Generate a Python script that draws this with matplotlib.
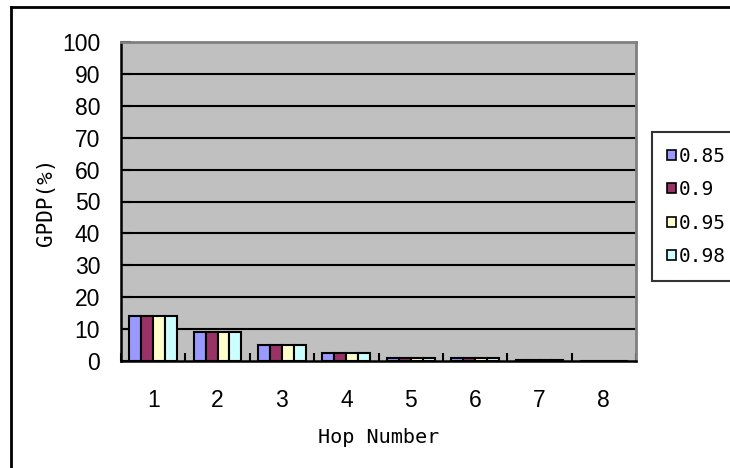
import matplotlib.pyplot as plt
import numpy as np

plt.rcParams['font.family'] = ['Liberation Sans', 'DejaVu Sans']

hops = [1, 2, 3, 4, 5, 6, 7, 8]
series_names = ['0.85', '0.9', '0.95', '0.98']
gpdp_085 = [14.1, 9.1, 4.9, 2.4, 0.9, 0.9, 0.3, 0.1]
gpdp_090 = [14.1, 9.1, 4.9, 2.4, 0.9, 0.9, 0.3, 0.1]
gpdp_095 = [14.1, 9.1, 4.9, 2.4, 0.9, 0.9, 0.3, 0.1]
gpdp_098 = [14.1, 9.1, 4.9, 2.4, 0.9, 0.9, 0.3, 0.1]
colors = ['#9999FF', '#993366', '#FFFFCC', '#CCFFFF']

num_font = ['Liberation Sans Narrow', 'Liberation Sans']
mono_font = ['DejaVu Sans Mono']

fig = plt.figure(figsize=(7.3, 4.68), dpi=100)
ax = fig.add_axes([121 / 730, 1 - 361 / 468, 515 / 730, 319 / 468])
ax.set_facecolor('#C0C0C0')

x = np.arange(len(hops))
w = 0.185
all_series = [gpdp_085, gpdp_090, gpdp_095, gpdp_098]
for k, (vals, name, col) in enumerate(zip(all_series, series_names, colors)):
    ax.bar(x + (k - 1.5) * w, vals, width=w, color=col, edgecolor='black',
           linewidth=1.5, label=name, zorder=3)

ax.set_xlim(-0.5, len(hops) - 0.5)
ax.set_ylim(0, 100)
ax.set_yticks(range(0, 101, 10))
ax.set_xticks(x)
ax.set_xticklabels([str(h) for h in hops])
ax.set_xticks(np.arange(-0.5, len(hops), 1.0), minor=True)
ax.tick_params(axis='x', which='major', length=0, pad=20)
ax.tick_params(axis='x', which='minor', direction='in', length=6, width=1.5)
ax.tick_params(axis='y', direction='in', length=7, width=1.5, pad=15)
for lab in ax.get_xticklabels() + ax.get_yticklabels():
    lab.set_family(num_font)
    lab.set_fontsize(16.5)

for yv in range(10, 100, 10):
    ax.axhline(yv, color='black', linewidth=1.5, zorder=1)

for side in ['left', 'bottom']:
    ax.spines[side].set_color('black')
    ax.spines[side].set_linewidth(1.8)
for side in ['top', 'right']:
    ax.spines[side].set_color('#808080')
    ax.spines[side].set_linewidth(2)

ax.set_xlabel('Hop Number', fontsize=14.5, family=mono_font, labelpad=12)
ax.set_ylabel('GPDP(%)', fontsize=15, family=mono_font, labelpad=4)

leg = fig.legend(loc='upper left', bbox_to_anchor=(652 / 730, 1 - 132 / 468),
                 prop={'family': mono_font, 'size': 14},
                 frameon=True, fancybox=False, borderaxespad=0,
                 handlelength=0.5, handleheight=0.4, handletextpad=0.15,
                 labelspacing=0.75, borderpad=0.75)
leg.get_frame().set_edgecolor('black')
leg.get_frame().set_linewidth(1.5)
for h in leg.legend_handles:
    h.set_linewidth(1.2)

# outer chart border
fig.add_artist(plt.Line2D([11 / 730, 1], [1 - 7 / 468, 1 - 7 / 468],
                          color='black', linewidth=2, transform=fig.transFigure))
fig.add_artist(plt.Line2D([11 / 730, 11 / 730], [0, 1 - 7 / 468],
                          color='black', linewidth=2, transform=fig.transFigure))

fig.savefig('out.png', dpi=100)
